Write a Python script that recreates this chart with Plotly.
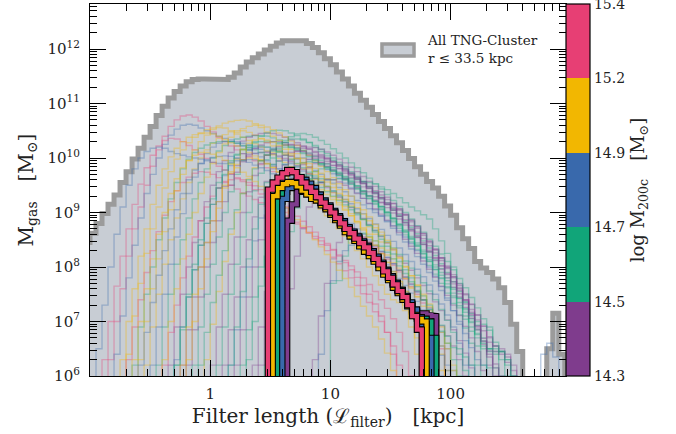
import numpy as np
import plotly.graph_objects as go

# ---------------- data (log10 values) ----------------
BIN = 0.05          # thin-line / total histogram bin width in log10(L/kpc)
BIN_THICK = 0.04    # mass-bin histogram bin width

# total TNG-Cluster histogram (log10 M_gas), bins start at log10 L = -1.10
total_start = -1.10
total_vals = [8.30, 8.45, 8.62, 8.80, 8.98, 9.15, 9.32, 9.55, 9.75, 9.98, 10.18, 10.38,
              10.58, 10.78, 10.95, 11.10, 11.22, 11.32, 11.40, 11.44, 11.45, 11.45,
              11.44, 11.43, 11.44, 11.48, 11.56, 11.67, 11.76, 11.84, 11.91, 11.98,
              12.05, 12.11, 12.15, 12.17, 12.17, 12.15, 12.10, 12.03, 11.93, 11.82,
              11.71, 11.58, 11.45, 11.32, 11.19, 11.06, 10.93, 10.80, 10.67, 10.54,
              10.41, 10.28, 10.14, 9.99, 9.84, 9.70, 9.57, 9.45, 9.30, 9.12, 8.95,
              8.72, 8.52, 8.34, 8.10, 7.98, 7.90, 7.78, 7.62, 7.35, 6.95, 6.45,
              5.0, 5.0, 5.0, 5.0, 6.5, 7.15, 6.4, 5.0]
total_label = 'All TNG-Cluster<br>r \u2264 33.5 kpc'

# mass-bin edges (colorbar) and colours
mass_edges = ['14.3', '14.5', '14.7', '14.9', '15.2', '15.4']
bin_colors = ['#7F3C8D', '#11A579', '#3969AC', '#F2B701', '#E73F74']

# thick histograms per mass bin (start log10 L, values)
thick_starts = [0.64, 0.56, 0.60, 0.52, 0.48]
thick_m1 = [8.85, 9.15, 9.38, 9.42, 9.40, 9.33, 9.27, 9.18, 9.09, 8.99, 8.89, 8.79, 8.70,
            8.61, 8.52, 8.43, 8.35, 8.25, 8.15, 8.04, 7.92, 7.80, 7.68, 7.56, 7.45, 7.32,
            7.20, 7.15, 7.15, 7.12, 7.10]
thick_m2 = [9.20, 9.38, 9.48, 9.52, 9.50, 9.45, 9.40, 9.34, 9.27, 9.17, 9.09, 8.99, 8.90,
            8.81, 8.71, 8.63, 8.54, 8.45, 8.37, 8.28, 8.17, 8.06, 7.94, 7.82, 7.70, 7.58,
            7.46, 7.32, 7.18, 7.08, 7.05, 7.00, 6.70]
thick_m3 = [9.25, 9.45, 9.56, 9.58, 9.60, 9.53, 9.45, 9.33, 9.22, 9.13, 9.03, 8.93, 8.84,
            8.73, 8.65, 8.56, 8.47, 8.39, 8.29, 8.19, 8.08, 7.95, 7.83, 7.71, 7.58, 7.47,
            7.35, 7.22, 7.08, 6.95, 6.70]
thick_m4 = [9.30, 9.45, 9.52, 9.56, 9.54, 9.48, 9.40, 9.33, 9.25, 9.22, 9.13, 9.06, 8.96,
            8.86, 8.76, 8.64, 8.56, 8.48, 8.38, 8.28, 8.20, 8.10, 7.98, 7.86, 7.76, 7.62,
            7.52, 7.40, 7.28, 7.12, 7.05, 7.00]
thick_m5 = [9.42, 9.55, 9.64, 9.72, 9.78, 9.74, 9.65, 9.55, 9.46, 9.38, 9.28, 9.18, 9.10,
            9.00, 8.90, 8.80, 8.70, 8.62, 8.52, 8.44, 8.36, 8.26, 8.15, 8.05, 7.92, 7.80,
            7.68, 7.56, 7.45, 7.30, 7.10, 6.85]

# individual clusters: mass bin index (0..4), start log10 L, values
thin_bins = [4, 2, 2, 3, 3, 1, 4, 3, 3, 2, 1, 3, 0, 1, 2, 3, 4, 0, 1, 1, 3, 0, 1, 0,
             2, 0, 1, 0, 1, 0, 0, 2, 1, 1, 0, 1, 2, 3, 0, 1, 4, 3]
thin_starts = [-0.85, -0.95, -0.80, -0.75, -0.70, -0.65, -0.70, -0.60, -0.55, -0.60,
               -0.45, -0.40, -0.35, -0.30, -0.30, -0.25, -0.40, -0.20, -0.15, -0.10,
               -0.05, 0.00, 0.05, 0.10, 0.15, 0.20, 0.25, 0.35, 0.45, 0.55, 0.85, 0.90,
               -0.30, 1.00, -0.25, 0.30, -0.50, -0.65, 0.40, 0.15, -0.90, -0.20]
t01 = [6.3, 7.0, 7.6, 8.2, 8.7, 9.1, 9.5, 9.85, 10.15, 10.4, 10.58, 10.7, 10.77, 10.79,
       10.75, 10.68, 10.58, 10.48, 10.38, 10.3, 10.22, 10.15, 10.08, 10.02, 9.95, 9.88,
       9.82, 9.75, 9.68, 9.6, 9.52, 9.44, 9.36, 9.28, 9.2, 9.12, 9.04, 8.96, 8.88, 8.8,
       8.72, 8.63, 8.54, 8.45, 8.35, 8.25, 8.14, 8.03, 7.91, 7.78, 7.64, 7.5, 7.34, 7.15,
       6.9, 6.5]
t02 = [6.5, 7.3, 8.0, 8.6, 9.1, 9.5, 9.8, 10.0, 10.12, 10.18, 10.2, 10.18, 10.12, 10.08,
       10.05, 10.02, 10.0, 9.98, 9.95, 9.92, 9.9, 9.9, 9.92, 9.95, 9.97, 9.98, 9.97, 9.95,
       9.9, 9.85, 9.8, 9.73, 9.66, 9.58, 9.5, 9.42, 9.34, 9.25, 9.16, 9.07, 8.98, 8.89,
       8.8, 8.7, 8.6, 8.5, 8.4, 8.29, 8.18, 8.06, 7.94, 7.81, 7.68, 7.54, 7.39, 7.22,
       7.03, 6.8, 6.5, 6.1]
t03 = [6.4, 7.1, 7.8, 8.4, 8.9, 9.35, 9.7, 10.0, 10.25, 10.42, 10.53, 10.6, 10.62, 10.6,
       10.55, 10.5, 10.45, 10.4, 10.36, 10.33, 10.3, 10.27, 10.24, 10.2, 10.16, 10.12,
       10.07, 10.02, 9.96, 9.9, 9.83, 9.76, 9.69, 9.62, 9.55, 9.48, 9.4, 9.32, 9.24, 9.16,
       9.07, 8.98, 8.89, 8.79, 8.69, 8.58, 8.47, 8.35, 8.23, 8.1, 7.96, 7.82, 7.67, 7.5,
       7.32, 7.12, 6.9, 6.6, 6.2]
t04 = [6.3, 7.0, 7.6, 8.2, 8.7, 9.15, 9.5, 9.8, 10.02, 10.18, 10.3, 10.38, 10.43, 10.45,
       10.46, 10.44, 10.4, 10.34, 10.28, 10.22, 10.16, 10.1, 10.04, 9.97, 9.9, 9.83, 9.75,
       9.67, 9.59, 9.5, 9.41, 9.32, 9.23, 9.14, 9.04, 8.94, 8.84, 8.73, 8.62, 8.5, 8.38,
       8.25, 8.12, 7.98, 7.83, 7.67, 7.5, 7.3, 7.05, 6.7, 6.2]
t05 = [6.4, 7.1, 7.7, 8.25, 8.7, 9.1, 9.45, 9.75, 9.98, 10.15, 10.28, 10.38, 10.46,
       10.52, 10.55, 10.56, 10.55, 10.5, 10.44, 10.38, 10.32, 10.26, 10.2, 10.13, 10.06,
       9.99, 9.92, 9.84, 9.76, 9.68, 9.6, 9.51, 9.42, 9.33, 9.24, 9.14, 9.04, 8.94, 8.83,
       8.72, 8.6, 8.48, 8.35, 8.22, 8.08, 7.94, 7.79, 7.63, 7.46, 7.28, 7.08, 6.85, 6.55,
       6.1]
t06 = [6.2, 6.9, 7.5, 8.0, 8.5, 8.9, 9.25, 9.55, 9.8, 9.98, 10.1, 10.18, 10.24, 10.28,
       10.3, 10.31, 10.3, 10.27, 10.23, 10.19, 10.15, 10.1, 10.05, 10.0, 9.94, 9.88, 9.82,
       9.75, 9.68, 9.61, 9.54, 9.46, 9.38, 9.3, 9.22, 9.14, 9.05, 8.96, 8.87, 8.77, 8.67,
       8.57, 8.46, 8.35, 8.23, 8.11, 7.98, 7.85, 7.71, 7.56, 7.4, 7.22, 7.02, 6.8, 6.5,
       6.1]
t07 = [6.3, 6.9, 7.4, 7.9, 8.3, 8.65, 8.95, 9.2, 9.4, 9.55, 9.65, 9.72, 9.75, 9.74, 9.7,
       9.64, 9.57, 9.5, 9.43, 9.36, 9.3, 9.24, 9.18, 9.12, 9.06, 9.0, 8.93, 8.86, 8.79,
       8.72, 8.64, 8.56, 8.48, 8.4, 8.31, 8.22, 8.12, 8.02, 7.91, 7.8, 7.68, 7.55, 7.4,
       7.24, 7.05, 6.8, 6.45, 6.0]
t08 = [6.3, 7.0, 7.6, 8.15, 8.65, 9.05, 9.4, 9.7, 9.95, 10.15, 10.3, 10.42, 10.52, 10.59,
       10.64, 10.67, 10.69, 10.7, 10.68, 10.63, 10.56, 10.48, 10.4, 10.32, 10.24, 10.16,
       10.08, 9.99, 9.9, 9.81, 9.72, 9.62, 9.52, 9.42, 9.31, 9.2, 9.09, 8.97, 8.85, 8.72,
       8.59, 8.45, 8.31, 8.16, 8.0, 7.84, 7.67, 7.5, 7.32, 7.12, 6.9, 6.6, 6.2]
t09 = [6.2, 6.9, 7.5, 8.05, 8.5, 8.9, 9.25, 9.55, 9.8, 10.0, 10.15, 10.27, 10.36, 10.43,
       10.48, 10.5, 10.5, 10.47, 10.42, 10.36, 10.29, 10.22, 10.14, 10.06, 9.98, 9.89,
       9.8, 9.71, 9.61, 9.51, 9.4, 9.29, 9.18, 9.06, 8.94, 8.81, 8.68, 8.54, 8.4, 8.25,
       8.09, 7.92, 7.74, 7.55, 7.35, 7.12, 6.85, 6.5, 6.0]
t10 = [6.2, 6.8, 7.35, 7.85, 8.3, 8.7, 9.05, 9.35, 9.6, 9.78, 9.9, 9.97, 10.01, 10.03,
       10.04, 10.03, 10.0, 9.96, 9.92, 9.87, 9.82, 9.77, 9.71, 9.65, 9.58, 9.51, 9.44,
       9.37, 9.29, 9.21, 9.13, 9.05, 8.96, 8.87, 8.78, 8.69, 8.59, 8.49, 8.38, 8.27, 8.16,
       8.04, 7.92, 7.79, 7.66, 7.52, 7.37, 7.21, 7.03, 6.82, 6.55, 6.2]
t11 = [6.2, 6.9, 7.5, 8.05, 8.5, 8.9, 9.25, 9.55, 9.8, 10.0, 10.13, 10.23, 10.3, 10.35,
       10.38, 10.4, 10.41, 10.41, 10.4, 10.37, 10.33, 10.28, 10.22, 10.16, 10.1, 10.04,
       9.97, 9.9, 9.83, 9.76, 9.68, 9.6, 9.52, 9.43, 9.34, 9.25, 9.15, 9.05, 8.94, 8.83,
       8.71, 8.59, 8.46, 8.32, 8.18, 8.03, 7.87, 7.7, 7.52, 7.33, 7.12, 6.88, 6.6, 6.2]
t12 = [6.3, 7.0, 7.6, 8.15, 8.6, 9.0, 9.35, 9.65, 9.9, 10.1, 10.26, 10.38, 10.47, 10.54,
       10.58, 10.6, 10.6, 10.57, 10.52, 10.46, 10.39, 10.31, 10.23, 10.14, 10.05, 9.95,
       9.85, 9.75, 9.64, 9.53, 9.42, 9.3, 9.18, 9.05, 8.92, 8.78, 8.64, 8.49, 8.34, 8.18,
       8.01, 7.84, 7.66, 7.47, 7.27, 7.05, 6.8, 6.5, 6.1]
t13 = [6.2, 6.9, 7.5, 8.0, 8.45, 8.85, 9.2, 9.5, 9.75, 9.95, 10.1, 10.22, 10.31, 10.38,
       10.42, 10.45, 10.46, 10.45, 10.42, 10.38, 10.33, 10.28, 10.22, 10.16, 10.1, 10.04,
       9.98, 9.92, 9.85, 9.78, 9.71, 9.64, 9.56, 9.48, 9.4, 9.32, 9.24, 9.16, 9.07, 8.97,
       8.86, 8.74, 8.61, 8.47, 8.32, 8.16, 7.99, 7.8, 7.6, 7.38, 7.14, 6.88, 6.58, 6.2]
t14 = [6.2, 6.85, 7.45, 7.95, 8.4, 8.8, 9.15, 9.45, 9.7, 9.9, 10.05, 10.16, 10.23, 10.28,
       10.3, 10.31, 10.3, 10.28, 10.24, 10.19, 10.14, 10.08, 10.02, 9.96, 9.89, 9.82, 9.75,
       9.68, 9.6, 9.52, 9.44, 9.35, 9.26, 9.17, 9.07, 8.97, 8.86, 8.75, 8.63, 8.51, 8.38,
       8.24, 8.1, 7.95, 7.79, 7.62, 7.44, 7.25, 7.04, 6.82, 6.55, 6.2]
t15 = [6.3, 6.9, 7.45, 7.95, 8.4, 8.8, 9.15, 9.45, 9.68, 9.86, 9.99, 10.08, 10.14, 10.18,
       10.2, 10.2, 10.18, 10.15, 10.1, 10.04, 9.98, 9.91, 9.84, 9.77, 9.7, 9.62, 9.54, 9.46,
       9.38, 9.3, 9.22, 9.14, 9.07, 9.0, 8.93, 8.85, 8.76, 8.66, 8.55, 8.43, 8.3, 8.16, 8.0,
       7.83, 7.64, 7.43, 7.2, 6.95, 6.65, 6.2]
t16 = [6.2, 6.9, 7.5, 8.0, 8.45, 8.85, 9.2, 9.5, 9.72, 9.88, 9.97, 10.0, 9.99, 9.95, 9.89,
       9.82, 9.74, 9.66, 9.57, 9.48, 9.38, 9.28, 9.17, 9.06, 8.94, 8.82, 8.7, 8.57, 8.44,
       8.3, 8.15, 8.0, 7.84, 7.67, 7.5, 7.4, 7.35, 7.2, 6.9, 6.4]
t17 = [6.2, 6.8, 7.3, 7.8, 8.2, 8.55, 8.85, 9.1, 9.3, 9.45, 9.55, 9.6, 9.62, 9.6, 9.55,
       9.49, 9.42, 9.35, 9.27, 9.19, 9.11, 9.02, 8.93, 8.84, 8.74, 8.64, 8.54, 8.43, 8.32,
       8.2, 8.08, 7.95, 7.81, 7.66, 7.5, 7.32, 7.1, 6.8, 6.4]
t18 = [6.2, 6.85, 7.45, 8.0, 8.45, 8.85, 9.2, 9.5, 9.74, 9.93, 10.07, 10.17, 10.24, 10.28,
       10.3, 10.3, 10.28, 10.24, 10.19, 10.13, 10.06, 9.99, 9.92, 9.85, 9.78, 9.7, 9.62,
       9.54, 9.46, 9.38, 9.3, 9.23, 9.18, 9.14, 9.1, 9.04, 8.96, 8.86, 8.75, 8.62, 8.48,
       8.33, 8.17, 8.0, 7.82, 7.62, 7.4, 7.17, 6.92, 6.65, 6.35, 6.0]
t19 = [6.2, 6.9, 7.5, 8.05, 8.55, 9.0, 9.38, 9.7, 9.95, 10.15, 10.3, 10.4, 10.46, 10.5,
       10.51, 10.5, 10.46, 10.41, 10.35, 10.28, 10.2, 10.12, 10.04, 9.96, 9.88, 9.8, 9.72,
       9.63, 9.54, 9.45, 9.35, 9.25, 9.15, 9.04, 8.93, 8.81, 8.69, 8.56, 8.42, 8.28, 8.13,
       7.97, 7.8, 7.62, 7.43, 7.22, 7.0, 6.76, 6.5, 6.15]
t20 = [6.2, 6.8, 7.35, 7.85, 8.3, 8.7, 9.05, 9.35, 9.6, 9.8, 9.95, 10.06, 10.13, 10.18,
       10.2, 10.2, 10.18, 10.14, 10.09, 10.03, 9.96, 9.89, 9.82, 9.74, 9.66, 9.58, 9.49,
       9.4, 9.31, 9.21, 9.11, 9.01, 8.9, 8.79, 8.68, 8.56, 8.44, 8.31, 8.18, 8.04, 7.9,
       7.75, 7.59, 7.42, 7.24, 7.05, 6.85, 6.64, 6.5, 6.55, 6.45, 6.2]
t21 = [6.3, 6.95, 7.55, 8.1, 8.6, 9.0, 9.35, 9.62, 9.82, 9.96, 10.05, 10.1, 10.11, 10.09,
       10.05, 9.99, 9.92, 9.84, 9.75, 9.66, 9.56, 9.46, 9.35, 9.24, 9.12, 9.0, 8.87, 8.74,
       8.6, 8.46, 8.31, 8.15, 7.98, 7.8, 7.61, 7.45, 7.4, 7.2, 6.9, 6.4]
t22 = [6.2, 6.9, 7.5, 8.05, 8.55, 9.0, 9.38, 9.68, 9.9, 10.05, 10.15, 10.21, 10.24, 10.25,
       10.24, 10.21, 10.17, 10.12, 10.06, 10.0, 9.93, 9.86, 9.78, 9.7, 9.62, 9.53, 9.44,
       9.35, 9.25, 9.15, 9.04, 8.93, 8.82, 8.7, 8.58, 8.45, 8.31, 8.17, 8.02, 7.86, 7.69,
       7.51, 7.32, 7.12, 6.91, 6.69, 6.46, 6.22, 6.0]
t23 = [6.2, 6.9, 7.5, 8.05, 8.55, 9.0, 9.4, 9.72, 9.97, 10.15, 10.26, 10.32, 10.35, 10.35,
       10.33, 10.29, 10.23, 10.16, 10.08, 10.0, 9.92, 9.84, 9.75, 9.66, 9.57, 9.48, 9.38,
       9.28, 9.18, 9.07, 8.96, 8.85, 8.73, 8.61, 8.48, 8.35, 8.21, 8.06, 7.9, 7.73, 7.55,
       7.36, 7.15, 6.93, 6.7, 6.45, 6.15]
t24 = [6.2, 6.85, 7.45, 8.0, 8.5, 8.92, 9.28, 9.57, 9.8, 9.95, 10.05, 10.1, 10.12, 10.12,
       10.09, 10.05, 10.0, 9.94, 9.87, 9.8, 9.72, 9.64, 9.56, 9.47, 9.38, 9.29, 9.19, 9.09,
       8.99, 8.88, 8.77, 8.66, 8.54, 8.42, 8.29, 8.16, 8.02, 7.88, 7.73, 7.57, 7.4, 7.22,
       7.03, 6.83, 6.62, 6.45, 6.4, 6.25, 6.0]
t25 = [6.2, 6.85, 7.45, 8.0, 8.48, 8.9, 9.25, 9.53, 9.74, 9.88, 9.96, 10.0, 10.0, 9.97,
       9.92, 9.86, 9.79, 9.71, 9.63, 9.54, 9.45, 9.36, 9.26, 9.16, 9.05, 8.94, 8.83, 8.71,
       8.59, 8.46, 8.33, 8.19, 8.05, 7.9, 7.74, 7.57, 7.39, 7.2, 7.0, 6.78, 6.52, 6.3, 6.2,
       5.0, 5.0, 5.0, 5.0, 5.0, 5.0, 5.0, 5.0, 5.0, 6.4, 6.6, 6.35]
t26 = [6.2, 6.85, 7.45, 8.0, 8.5, 8.95, 9.33, 9.64, 9.87, 10.03, 10.13, 10.18, 10.2,
       10.19, 10.16, 10.11, 10.05, 9.98, 9.91, 9.83, 9.75, 9.66, 9.57, 9.48, 9.38, 9.28,
       9.17, 9.06, 8.95, 8.83, 8.71, 8.58, 8.45, 8.31, 8.17, 8.02, 7.86, 7.69, 7.51, 7.32,
       7.12, 6.91, 6.7, 6.55, 6.5, 6.4, 6.2]
t27 = [6.2, 6.85, 7.45, 8.0, 8.5, 8.92, 9.27, 9.54, 9.73, 9.85, 9.91, 9.93, 9.92, 9.89,
       9.84, 9.78, 9.71, 9.63, 9.55, 9.47, 9.38, 9.29, 9.2, 9.1, 9.0, 8.89, 8.78, 8.66,
       8.54, 8.41, 8.28, 8.14, 8.0, 7.85, 7.69, 7.52, 7.35, 7.17, 6.98, 6.78, 6.6, 6.5,
       6.45, 6.3, 6.0]
t28 = [6.2, 6.9, 7.55, 8.15, 8.65, 9.08, 9.43, 9.7, 9.88, 9.98, 10.02, 10.02, 9.99, 9.94,
       9.88, 9.81, 9.73, 9.65, 9.56, 9.47, 9.37, 9.27, 9.16, 9.05, 8.93, 8.81, 8.68, 8.55,
       8.41, 8.27, 8.12, 7.96, 7.8, 7.63, 7.45, 7.26, 7.06, 6.85, 6.63, 6.4, 6.15]
t29 = [6.2, 6.9, 7.55, 8.15, 8.65, 9.08, 9.4, 9.62, 9.75, 9.8, 9.8, 9.77, 9.72, 9.65,
       9.57, 9.49, 9.4, 9.31, 9.21, 9.11, 9.0, 8.89, 8.77, 8.65, 8.52, 8.39, 8.25, 8.11,
       7.96, 7.8, 7.64, 7.47, 7.29, 7.1, 6.9, 6.7, 6.55, 6.5, 6.4, 6.45, 6.3, 6.0]
t30 = [6.2, 6.95, 7.6, 8.2, 8.7, 9.1, 9.38, 9.55, 9.6, 9.6, 9.56, 9.5, 9.43, 9.35, 9.26,
       9.17, 9.07, 8.97, 8.86, 8.75, 8.63, 8.51, 8.38, 8.25, 8.11, 7.96, 7.81, 7.65, 7.48,
       7.3, 7.11, 6.91, 6.7, 6.45, 6.1]
t31 = [6.3, 7.1, 7.7, 8.15, 8.45, 8.6, 8.65, 8.62, 8.55, 8.47, 8.38, 8.28, 8.17, 8.06,
       7.94, 7.82, 7.69, 7.55, 7.4, 7.25, 7.09, 6.92, 6.74, 6.55, 6.3, 6.0]
t32 = [6.4, 7.2, 7.75, 8.1, 8.3, 8.4, 8.42, 8.38, 8.3, 8.2, 8.08, 7.95, 7.8, 7.64, 7.47,
       7.3, 7.12, 6.92, 6.7, 6.4, 6.0]
t33 = [6.2, 6.9, 7.5, 8.05, 8.5, 8.9, 9.25, 9.55, 9.78, 9.95, 10.07, 10.15, 10.2, 10.22,
       10.22, 10.2, 10.16, 10.11, 10.05, 9.98, 9.9, 9.82, 9.74, 9.67, 9.62, 9.6, 9.6, 9.62,
       9.63, 9.62, 9.6, 9.57, 9.55, 9.52, 9.47, 9.42, 9.35, 9.27, 9.18, 9.1, 9.03, 8.96,
       8.88, 8.7, 8.48, 8.25, 8.0, 7.7, 7.35, 7.1, 7.0, 6.95, 6.9, 6.5, 6.0]
t34 = [7.7, 7.75, 8.2, 8.5, 8.62, 8.62, 8.56, 8.48, 8.38, 8.27, 8.15, 8.02, 7.88, 7.73,
       7.57, 7.4, 7.22, 7.03, 6.82, 6.6, 6.3, 6.0]
t35 = [6.2, 6.85, 7.45, 8.0, 8.45, 8.85, 9.2, 9.48, 9.7, 9.86, 9.97, 10.04, 10.08, 10.1,
       10.1, 10.08, 10.04, 9.99, 9.93, 9.86, 9.79, 9.71, 9.63, 9.55, 9.46, 9.37, 9.28, 9.19,
       9.09, 8.99, 8.89, 8.78, 8.67, 8.56, 8.44, 8.32, 8.2, 8.07, 7.94, 7.8, 7.66, 7.51,
       7.36, 7.2, 7.03, 6.85, 6.65, 6.42, 6.15]
t36 = [6.3, 7.0, 7.65, 8.2, 8.7, 9.1, 9.38, 9.57, 9.67, 9.7, 9.68, 9.63, 9.56, 9.48, 9.39,
       9.3, 9.2, 9.1, 8.99, 8.88, 8.76, 8.64, 8.51, 8.38, 8.24, 8.1, 7.95, 7.8, 7.64, 7.47,
       7.3, 7.12, 6.93, 6.73, 6.52, 6.4, 6.35, 6.2]
t37 = [6.2, 6.9, 7.5, 8.05, 8.55, 8.98, 9.35, 9.65, 9.9, 10.08, 10.2, 10.27, 10.3, 10.3,
       10.27, 10.22, 10.16, 10.09, 10.02, 9.95, 9.88, 9.8, 9.72, 9.64, 9.56, 9.47, 9.38,
       9.29, 9.2, 9.11, 9.01, 8.91, 8.81, 8.7, 8.59, 8.48, 8.36, 8.24, 8.11, 7.98, 7.84,
       7.7, 7.55, 7.39, 7.22, 7.04, 6.85, 6.63, 6.38, 6.1]
t38 = [6.3, 7.0, 7.6, 8.15, 8.6, 9.0, 9.35, 9.62, 9.82, 9.96, 10.05, 10.1, 10.1, 10.07,
       10.02, 9.96, 9.89, 9.82, 9.74, 9.66, 9.57, 9.48, 9.39, 9.29, 9.19, 9.09, 8.98, 8.87,
       8.75, 8.63, 8.5, 8.37, 8.23, 8.09, 7.94, 7.79, 7.63, 7.46, 7.28, 7.1, 6.9, 6.68,
       6.42, 6.1]
t39 = [6.2, 6.9, 7.55, 8.15, 8.65, 9.08, 9.42, 9.67, 9.82, 9.9, 9.92, 9.9, 9.86, 9.81,
       9.75, 9.68, 9.61, 9.53, 9.45, 9.36, 9.27, 9.18, 9.08, 8.98, 8.87, 8.76, 8.64, 8.52,
       8.39, 8.26, 8.12, 7.97, 7.82, 7.66, 7.49, 7.31, 7.12, 6.92, 6.72, 6.55, 6.45, 6.35,
       6.1]
t40 = [6.2, 6.9, 7.55, 8.15, 8.7, 9.15, 9.55, 9.88, 10.12, 10.29, 10.39, 10.44, 10.45,
       10.43, 10.38, 10.32, 10.25, 10.17, 10.09, 10.0, 9.91, 9.82, 9.73, 9.63, 9.53, 9.43,
       9.33, 9.22, 9.11, 9.0, 8.88, 8.76, 8.64, 8.51, 8.38, 8.24, 8.1, 7.95, 7.79, 7.62,
       7.44, 7.25, 7.05, 6.84, 6.62, 6.45, 6.3, 6.0]
t41 = [6.3, 7.0, 7.65, 8.2, 8.7, 9.15, 9.52, 9.82, 10.05, 10.22, 10.32, 10.36, 10.35,
       10.3, 10.23, 10.15, 10.07, 9.99, 9.92, 9.85, 9.78, 9.71, 9.64, 9.57, 9.5, 9.42,
       9.34, 9.26, 9.18, 9.09, 9.0, 8.91, 8.82, 8.72, 8.62, 8.52, 8.41, 8.3, 8.18, 8.06,
       7.93, 7.8, 7.66, 7.51, 7.35, 7.18, 7.0, 6.8, 6.55, 6.2]
t42 = [6.3, 7.0, 7.6, 8.15, 8.65, 9.08, 9.45, 9.75, 9.98, 10.15, 10.27, 10.33, 10.35,
       10.33, 10.29, 10.23, 10.16, 10.08, 9.99, 9.9, 9.8, 9.7, 9.59, 9.48, 9.36, 9.24,
       9.11, 8.98, 8.84, 8.7, 8.55, 8.4, 8.24, 8.08, 7.91, 7.73, 7.55, 7.36, 7.16, 6.95,
       6.72, 6.45, 6.1]

thin_series = [t01, t02, t03, t04, t05, t06, t07, t08, t09, t10, t11, t12, t13, t14, t15,
               t16, t17, t18, t19, t20, t21, t22, t23, t24, t25, t26, t27, t28, t29, t30,
               t31, t32, t33, t34, t35, t36, t37, t38, t39, t40, t41, t42]
thick_series = [thick_m1, thick_m2, thick_m3, thick_m4, thick_m5]

LOW = 3.0  # below the axis floor


def step_path(start, width, vals):
    xs = [start]
    ys = [LOW]
    for i, v in enumerate(vals):
        a = start + i * width
        xs += [a, a + width]
        ys += [v, v]
    xs.append(start + len(vals) * width)
    ys.append(LOW)
    return 10 ** np.array(xs), 10 ** np.array(ys)


def rgba(hexc, a):
    h = hexc.lstrip('#')
    return 'rgba(%d,%d,%d,%.2f)' % (int(h[0:2], 16), int(h[2:4], 16), int(h[4:6], 16), a)


FONT = 'DejaVu Serif'
TXT = '#222'
GRAY_LINE = 'rgb(155,155,155)'
GRAY_FILL = 'rgb(200,205,212)'
fig = go.Figure()

# total histogram
tx, ty = step_path(total_start, BIN, total_vals)
fig.add_trace(go.Scatter(x=tx, y=ty, mode='lines', fill='toself', fillcolor=GRAY_FILL,
                         line=dict(color=GRAY_LINE, width=5),
                         name=total_label, showlegend=False, hoverinfo='skip'))

# individual clusters (interleave draw order)
order = list(range(0, len(thin_series), 2)) + list(range(1, len(thin_series), 2))
for k in order:
    x, y = step_path(thin_starts[k], BIN, thin_series[k])
    fig.add_trace(go.Scatter(x=x, y=y, mode='lines',
                             line=dict(color=rgba(bin_colors[thin_bins[k]], 0.34), width=1.4),
                             showlegend=False, hoverinfo='skip'))

# mass-bin histograms (thick, black outline)
for c, s, vals in zip(bin_colors, thick_starts, thick_series):
    x, y = step_path(s, BIN_THICK, vals)
    fig.add_trace(go.Scatter(x=x, y=y, mode='lines', line=dict(color='black', width=6.4),
                             showlegend=False, hoverinfo='skip'))
    fig.add_trace(go.Scatter(x=x, y=y, mode='lines', line=dict(color=c, width=4.2),
                             showlegend=False, hoverinfo='skip'))

# colour bar
cs = []
for i, c in enumerate(bin_colors):
    cs += [[i / 5, c], [(i + 1) / 5, c]]
fig.add_trace(go.Scatter(x=[None], y=[None], mode='markers', showlegend=False,
                         marker=dict(color=[0], cmin=0, cmax=5, colorscale=cs, showscale=True,
                                     colorbar=dict(thickness=24, len=1, lenmode='fraction',
                                                   x=1.0, xanchor='left', xpad=0, y=0.5,
                                                   yanchor='middle', ypad=0,
                                                   outlinewidth=1.2, outlinecolor='black',
                                                   tickvals=list(range(6)), ticktext=mass_edges,
                                                   ticks='', ticklabeloverflow='allow',
                                                   tickfont=dict(size=14, family=FONT, color=TXT),
                                                   title=dict(text='log M<sub>200c</sub>\u2002\u2002[M<sub>\u2299</sub>]',
                                                              side='right',
                                                              font=dict(size=18, family=FONT,
                                                                        color=TXT)))),
                         hoverinfo='skip'))

# legend box for the total histogram (paper coordinates)
fig.add_shape(type='rect', xref='paper', yref='paper', x0=0.6134, x1=0.6807, y0=0.860,
              y1=0.8925, line=dict(color=GRAY_LINE, width=3.5), fillcolor=GRAY_FILL)
fig.add_annotation(xref='paper', yref='paper', x=0.703, y=0.878, xanchor='left',
                   yanchor='middle', align='left', showarrow=False, text=total_label,
                   font=dict(size=13.5, family=FONT, color=TXT))

xminor = [m * 10.0 ** k for k in range(-1, 3) for m in range(2, 10)]
yminor = [m * 10.0 ** k for k in range(6, 13) for m in range(2, 10)]

fig.update_layout(
    width=676, height=434,
    margin=dict(l=90, r=110, t=4, b=58),
    paper_bgcolor='white', plot_bgcolor='white',
    font=dict(family=FONT, color=TXT, size=14),
    showlegend=False,
    xaxis=dict(type='log', range=[-1.0, 2.96], showgrid=False, zeroline=False,
               showline=True, linecolor='black', linewidth=1.2, mirror='allticks',
               ticks='inside', ticklen=16, tickwidth=1.2, tickcolor='black',
               tickvals=[1, 10, 100], ticktext=['1', '10', '100'],
               tickfont=dict(size=15), ticklabelstandoff=4,
               minor=dict(tickvals=xminor, ticks='inside', ticklen=7, tickwidth=1,
                          tickcolor='black', showgrid=False),
               title=dict(text='Filter length (\u2112<sub>filter</sub>)\u2002\u2002[kpc]',
                          font=dict(size=20), standoff=6)),
    yaxis=dict(type='log', range=[6, 12.826], showgrid=False, zeroline=False,
               showline=True, linecolor='black', linewidth=1.2, mirror='allticks',
               ticks='inside', ticklen=16, tickwidth=1.2, tickcolor='black',
               tickvals=[10.0 ** k for k in range(6, 13)],
               ticktext=['10<sup>%d</sup>' % k for k in range(6, 13)],
               tickfont=dict(size=15), ticklabelstandoff=6,
               minor=dict(tickvals=yminor, ticks='inside', ticklen=7, tickwidth=1,
                          tickcolor='black', showgrid=False),
               title=dict(text='M<sub>gas</sub>\u2002\u2002[M<sub>\u2299</sub>]',
                          font=dict(size=20), standoff=8)),
)

fig.write_html('out.html')
